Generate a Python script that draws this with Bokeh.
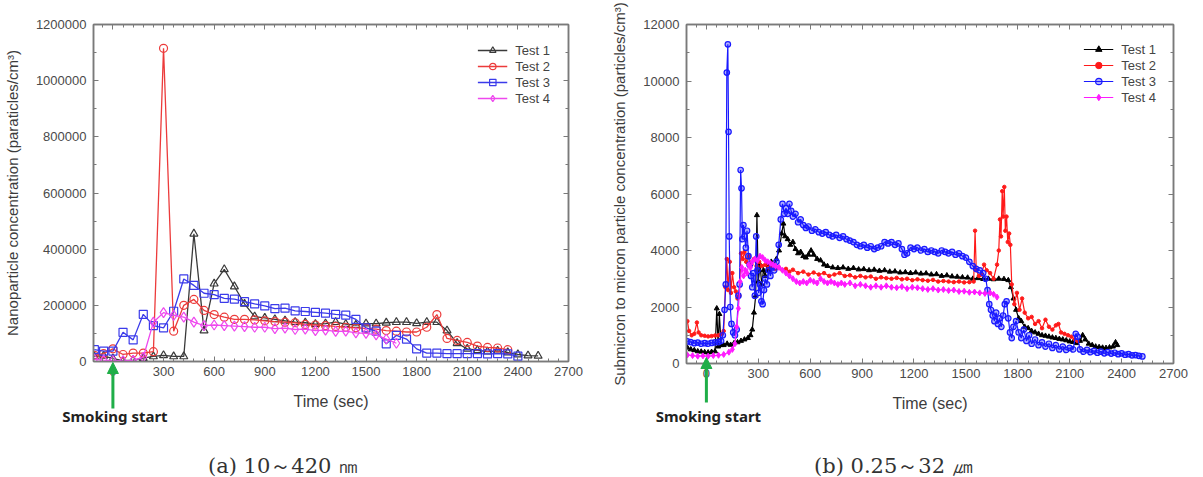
from bokeh.plotting import figure
from bokeh.layouts import row, column
from bokeh.models import (LinearAxis, SingleIntervalTicker, BasicTickFormatter, Range1d,
                          Legend, LegendItem, Arrow, NormalHead, Label)
from bokeh.embed import file_html
from bokeh.resources import INLINE

# ---------------- (a) nanoparticles, 10~420 nm ----------------
nano_t1_time = [-110, -55, 0, 60, 120, 180, 240, 300, 360, 420, 480, 540, 600, 660, 720, 780,
                840, 900, 960, 1020, 1080, 1140, 1200, 1260, 1320, 1380, 1440, 1500, 1560,
                1620, 1680, 1740, 1800, 1860, 1920, 1980, 2040, 2100, 2160, 2220, 2280, 2340,
                2400, 2460, 2520]
nano_t1 = [18000, 20000, 10000, 3000, 5000, 12000, 18000, 22000, 18000, 18000, 455000, 110000,
           277000, 328000, 267000, 205000, 160000, 155000, 150000, 145000, 140000, 138000,
           133000, 135000, 140000, 133000, 130000, 135000, 135000, 138000, 140000, 140000,
           136000, 140000, 140000, 110000, 65000, 45000, 40000, 35000, 38000, 32000, 25000,
           21000, 20000]

nano_t2_time = [-110, -55, 0, 60, 120, 180, 240, 300, 360, 420, 480, 540, 600, 660, 720, 780,
                840, 900, 960, 1020, 1080, 1140, 1200, 1260, 1320, 1380, 1440, 1500, 1560,
                1620, 1680, 1740, 1800, 1860, 1920, 1980, 2040, 2100, 2160, 2220, 2280, 2340]
nano_t2 = [22000, 28000, 45000, 25000, 30000, 30000, 35000, 1115000, 108000, 200000, 221000,
           182000, 167000, 158000, 150000, 150000, 148000, 145000, 142000, 140000, 138000,
           132000, 130000, 128000, 125000, 122000, 120000, 118000, 115000, 110000, 108000,
           105000, 105000, 122000, 167000, 82000, 75000, 68000, 55000, 50000, 48000, 42000]

nano_t3_time = [-110, -55, 0, 60, 120, 180, 240, 300, 360, 420, 480, 540, 600, 660, 720, 780,
                840, 900, 960, 1020, 1080, 1140, 1200, 1260, 1320, 1380, 1440, 1500, 1560,
                1620, 1680, 1740, 1800, 1860, 1920, 1980, 2040, 2100, 2160, 2220, 2280, 2340,
                2400]
nano_t3 = [42000, 37000, 37000, 104000, 77000, 168000, 128000, 120000, 179000, 294000, 271000,
           243000, 238000, 225000, 222000, 213000, 205000, 198000, 188000, 190000, 180000,
           178000, 175000, 172000, 168000, 165000, 150000, 120000, 108000, 63000, 93000,
           80000, 45000, 30000, 30000, 28000, 28000, 28000, 28000, 27000, 28000, 27000, 19000]

nano_t4_time = [-110, -55, 0, 60, 120, 180, 240, 300, 360, 420, 480, 540, 600, 660, 720, 780,
                840, 900, 960, 1020, 1080, 1140, 1200, 1260, 1320, 1380, 1440, 1500, 1560,
                1620, 1680]
nano_t4 = [8000, 5000, 3000, 2000, 4000, 15000, 140000, 174000, 164000, 158000, 140000, 128000,
           130000, 128000, 126000, 124000, 122000, 122000, 117000, 119000, 114000, 115000,
           110000, 112000, 107000, 108000, 102000, 100000, 95000, 80000, 65000]

# ---------------- (b) submicron to micron, 0.25~32 um ----------------
sub_t1_time = [-110, -90, -70, -50, -30, -10, 10, 30, 50, 60, 68, 75, 85, 100, 120, 140, 160,
               180, 200, 220, 240, 255, 265, 275, 285, 292, 300, 310, 320, 330, 340, 350, 360,
               375, 390, 405, 420, 435, 445, 455, 470, 485, 500, 515, 530, 545, 560, 575, 590,
               605, 620, 640, 660, 680, 700, 730, 760, 790, 820, 850, 880, 910, 940, 970, 1000,
               1030, 1060, 1090, 1120, 1150, 1180, 1210, 1240, 1270, 1300, 1330, 1360, 1390,
               1420, 1450, 1480, 1510, 1540, 1570, 1600, 1630, 1660, 1690, 1720, 1745, 1760,
               1775, 1790, 1805, 1820, 1840, 1860, 1880, 1900, 1920, 1940, 1960, 1980, 2000,
               2020, 2040, 2060, 2080, 2100, 2120, 2140, 2160, 2175, 2190, 2210, 2230, 2250,
               2270, 2290, 2310, 2330, 2350, 2365, 2375]
sub_t1 = [560, 500, 470, 430, 420, 400, 390, 410, 430, 1950, 600, 1750, 650, 650, 700, 660, 720,
          750, 800, 850, 900, 1000, 1200, 1800, 2400, 5250, 2900, 3500, 2800, 3300, 3100, 3500,
          3300, 3600, 3500, 3700, 4000, 4600, 4950, 4500, 4400, 4200, 4300, 4050, 3900, 3950,
          3800, 3750, 3850, 4000, 3850, 3700, 3650, 3500, 3450, 3400, 3380, 3400, 3350, 3380,
          3330, 3340, 3300, 3320, 3280, 3300, 3250, 3260, 3220, 3230, 3200, 3220, 3180, 3190,
          3150, 3160, 3100, 3120, 3080, 3070, 3050, 3040, 3000, 3020, 2990, 3000, 2980, 3000,
          2990, 2950, 2700, 2300, 1900, 1600, 1500, 1300, 1250, 1150, 1100, 1050, 1000, 980,
          950, 920, 900, 870, 850, 820, 780, 760, 720, 800, 1000, 850, 700, 650, 600, 580, 560,
          550, 570, 600, 750, 650]

sub_t2_time = [-110, -100, -85, -70, -55, -45, -30, -10, 10, 30, 50, 70, 90, 100, 110, 118, 125,
               135, 142, 150, 160, 170, 180, 190, 200, 210, 220, 230, 245, 260, 275, 290, 305,
               320, 340, 360, 380, 400, 420, 440, 460, 480, 500, 530, 560, 590, 620, 650, 680,
               710, 740, 770, 800, 830, 860, 890, 920, 950, 980, 1010, 1040, 1070, 1100, 1130,
               1160, 1190, 1220, 1250, 1280, 1310, 1340, 1370, 1400, 1430, 1460, 1490, 1520,
               1545, 1553, 1560, 1575, 1590, 1605, 1620, 1640, 1660, 1680, 1690, 1697, 1703,
               1710, 1715, 1722, 1728, 1735, 1742, 1750, 1757, 1765, 1780, 1795, 1810, 1825,
               1840, 1860, 1880, 1900, 1920, 1940, 1960, 1980, 2000, 2020, 2035, 2050, 2070,
               2090, 2110, 2130, 2145]
sub_t2 = [1500, 1150, 1000, 1050, 1450, 1100, 1000, 980, 960, 970, 990, 1000, 1050, 1150, 2700,
          3700, 2600, 3600, 2500, 3200, 2700, 2550, 2300, 2400, 3900, 3700, 3950, 3600, 3800,
          3500, 3700, 3450, 3600, 3450, 3500, 3400, 3450, 3350, 3400, 3300, 3350, 3250, 3320,
          3200, 3250, 3150, 3220, 3150, 3200, 3100, 3150, 3200, 3100, 3120, 3050, 3100, 3050,
          3080, 3000, 3050, 3020, 3000, 3030, 2980, 3000, 2950, 2980, 2950, 2930, 2960, 2900,
          2920, 2900, 2880, 2900, 2870, 2880, 2900, 4700, 3300, 3100, 3150, 3500, 3300, 3200,
          3000, 3500, 4000, 5100, 4500, 6100, 5200, 6250, 4700, 5200, 4300, 4600, 4200, 2800,
          2100, 2500, 1900, 2300, 1800, 1600, 1650, 1400, 1500, 1250, 1550, 1300, 1200, 1350,
          1400, 1100, 1050, 1000, 950, 850, 800]

sub_t3_time = [-110, -90, -70, -50, -30, -10, 10, 30, 50, 70, 85, 95, 105, 112, 118, 124, 128,
               132, 138, 145, 155, 165, 175, 185, 192, 198, 203, 208, 214, 220, 228, 235, 243,
               250, 258, 265, 272, 280, 288, 295, 302, 310, 318, 325, 333, 340, 350, 360, 370,
               380, 392, 405, 418, 430, 440, 450, 460, 470, 480, 490, 500, 515, 530, 545, 560,
               575, 590, 610, 630, 650, 670, 690, 710, 730, 750, 770, 790, 810, 830, 850, 870,
               890, 910, 930, 950, 970, 990, 1010, 1030, 1050, 1070, 1090, 1110, 1130, 1145,
               1160, 1180, 1200, 1220, 1240, 1260, 1280, 1300, 1320, 1340, 1360, 1380, 1400,
               1420, 1440, 1460, 1480, 1500, 1520, 1540, 1560, 1580, 1600, 1615, 1625, 1635,
               1645, 1655, 1665, 1675, 1685, 1695, 1705, 1715, 1725, 1735, 1745, 1755, 1765,
               1775, 1790, 1805, 1820, 1835, 1850, 1865, 1880, 1900, 1920, 1940, 1960, 1980,
               2000, 2020, 2040, 2060, 2080, 2100, 2120, 2135, 2145, 2160, 2180, 2200, 2220,
               2240, 2260, 2280, 2300, 2320, 2340, 2360, 2380, 2400, 2420, 2440, 2460, 2480,
               2500, 2520]
sub_t3 = [780, 760, 720, 740, 700, 720, 700, 730, 750, 760, 800, 1000, 1900, 2800, 10300, 11300,
          8200, 4500, 2000, 1400, 1100, 1000, 1200, 2400, 2800, 6850, 6200, 4400, 4900, 4500,
          4100, 4700, 3800, 3500, 3100, 2700, 3200, 2400, 4500, 3300, 2500, 2800, 2200, 2100,
          2600, 3000, 2800, 3300, 3100, 3400, 3300, 3600, 4200, 5100, 5650, 5300, 5500, 5300,
          5650, 5400, 5200, 5300, 5000, 5100, 4900, 4800, 4850, 4700, 4750, 4650, 4600, 4650,
          4550, 4500, 4550, 4450, 4500, 4400, 4350, 4300, 4200, 4150, 4200, 4100, 4150, 4050,
          4100, 4150, 4300, 4250, 4300, 4200, 4250, 4050, 3850, 3900, 4100, 4050, 4100, 4000,
          4050, 3950, 4000, 3950, 3900, 4000, 3950, 3900, 3950, 3850, 3900, 3800, 3750, 3600,
          3450, 3350, 3300, 3200, 3000, 2600, 2100, 1900, 1700, 1500, 1800, 1400, 1600, 1300,
          1700, 2100, 2200, 1600, 1100, 900, 1300, 1500, 1100, 900, 1200, 800, 1000, 700, 850,
          650, 750, 600, 700, 550, 650, 500, 600, 480, 550, 500, 1050, 950, 500, 420, 480, 400,
          450, 380, 420, 360, 400, 350, 380, 330, 360, 310, 330, 290, 300, 270, 250]

sub_t4_time = [-110, -80, -50, -20, 10, 40, 70, 100, 130, 150, 165, 175, 185, 195, 205, 215,
               225, 235, 245, 255, 265, 280, 295, 310, 325, 340, 355, 370, 385, 400, 420, 440,
               460, 480, 500, 520, 540, 560, 580, 600, 620, 640, 660, 680, 700, 720, 740, 760,
               780, 800, 830, 860, 890, 920, 950, 980, 1010, 1040, 1070, 1100, 1130, 1160, 1190,
               1220, 1250, 1280, 1310, 1340, 1370, 1400, 1430, 1460, 1490, 1520, 1550, 1580,
               1610, 1640, 1660, 1680]
sub_t4 = [300, 280, 260, 270, 260, 280, 290, 320, 400, 500, 700, 1300, 1950, 2900, 3400, 3100,
          3300, 3200, 3500, 3400, 3600, 3700, 3650, 3800, 3750, 3650, 3600, 3550, 3500, 3450,
          3400, 3300, 3200, 3100, 3000, 2900, 2850, 2900, 2850, 2950, 2900, 2850, 3000, 2900,
          2850, 2900, 2850, 2800, 2850, 2800, 2850, 2750, 2800, 2750, 2700, 2750, 2700, 2750,
          2700, 2680, 2720, 2650, 2700, 2680, 2650, 2620, 2650, 2600, 2620, 2580, 2600, 2550,
          2560, 2520, 2530, 2500, 2480, 2500, 2450, 2350]

series_names = ["Test 1", "Test 2", "Test 3", "Test 4"]

FRAME = "#7a7a7a"
TICK_TXT = "#4a4a4a"
LABEL_TXT = "#3c3c3c"
GREEN = "#1fae48"
SANS = "Liberation Sans"
X_START, X_END = -115, 2700
H = 477


def make_panel(width, b_left, b_right, b_bottom, y_max, y_step, y_label, y_label_size):
    p = figure(width=width, height=H, output_backend="svg", toolbar_location=None,
               x_range=Range1d(X_START, X_END), y_range=Range1d(0, y_max),
               min_border_left=b_left, min_border_right=b_right, min_border_top=24,
               min_border_bottom=b_bottom, x_axis_label="Time (sec)", y_axis_label=y_label,
               frame_align=False)
    xt = SingleIntervalTicker(interval=300, num_minor_ticks=5)
    yt = SingleIntervalTicker(interval=y_step, num_minor_ticks=2)
    xa = p.below[0]
    ya = p.left[0]
    xa.ticker = xt
    ya.ticker = yt
    ya.formatter = BasicTickFormatter(use_scientific=False)
    top = LinearAxis(ticker=xt)
    right = LinearAxis(ticker=yt)
    p.add_layout(top, "above")
    p.add_layout(right, "right")
    for ax in (xa, ya, top, right):
        ax.axis_line_color = FRAME
        ax.axis_line_width = 1.5
        ax.major_tick_line_color = FRAME
        ax.minor_tick_line_color = FRAME
        ax.major_tick_in = 5
        ax.major_tick_out = 0
        ax.minor_tick_in = 3
        ax.minor_tick_out = 0
    # the mirrored edges carry tick marks only
    for ax in (top, right):
        ax.major_label_text_color = None
        ax.major_label_text_font_size = "1px"
        ax.major_label_standoff = 0
    for ax in (xa, ya):
        ax.major_label_text_font = SANS
        ax.major_label_text_font_size = "13px"
        ax.major_label_text_color = TICK_TXT
        ax.axis_label_text_font = SANS
        ax.axis_label_text_font_style = "normal"
        ax.axis_label_text_color = LABEL_TXT
    xa.major_label_standoff = 5
    xa.axis_label_text_font_size = "16px"
    xa.axis_label_standoff = 14
    ya.major_label_standoff = 7
    ya.axis_label_text_font_size = y_label_size
    ya.axis_label_standoff = 12
    p.grid.visible = False
    p.outline_line_color = FRAME
    p.outline_line_width = 1.5
    return p


def make_overlay(width, b_left, b_right, arrow_tail, arrow_tip, caption, cap_x):
    # transparent sheet laid over a panel; y counts pixels from the top edge
    frame_w = width - b_left - b_right
    k = frame_w / (X_END - X_START)
    ov = figure(width=width, height=H, output_backend="svg", toolbar_location=None,
                x_range=Range1d(X_START - b_left / k, X_END + b_right / k),
                y_range=Range1d(H, 0), x_axis_location=None, y_axis_location=None,
                min_border=0, outline_line_color=None, frame_align=False,
                border_fill_color=None, background_fill_color=None,
                margin=(-H, 0, 0, 0))
    ov.grid.visible = False
    ov.add_layout(Arrow(end=NormalHead(size=11, fill_color=GREEN, line_color=GREEN),
                        x_start=0, y_start=arrow_tail, x_end=0, y_end=arrow_tip,
                        line_color=GREEN, line_width=3))
    ov.add_layout(Label(x=0, y=415, x_offset=2, text="Smoking start",
                        text_align="center", text_baseline="middle", text_font="Noto Sans",
                        text_font_style="bold", text_font_size="15px",
                        text_color="#222222"))
    ov.add_layout(Label(x=cap_x, y=465, text=caption, text_align="center",
                        text_baseline="middle", text_font="DejaVu Serif",
                        text_font_size="21px", text_color="#333333"))
    return ov


def add_legend(p, items, margin):
    leg = Legend(items=items, location="top_right", border_line_color=None,
                 background_fill_alpha=0, padding=0, margin=margin, spacing=0,
                 glyph_width=30, glyph_height=16, label_height=16, label_standoff=8,
                 label_text_font=SANS, label_text_font_size="13px",
                 label_text_color="#444444")
    p.add_layout(leg)


# ---------------- left panel ----------------
pa = make_panel(600, 93, 32, 116, 1200000, 200000,
                "Nanoparticle concentration (paraticles/cm\u00b3)", "15px")
a_cols = ["#3a3a3a", "#ec3b3b", "#3b3bea", "#ee48ee"]
a_markers = ["triangle", "circle", "square", "diamond"]
a_sizes = [8, 8, 8, 10]
a_data = [(nano_t1_time, nano_t1), (nano_t2_time, nano_t2),
          (nano_t3_time, nano_t3), (nano_t4_time, nano_t4)]
a_items = []
for name, (tx, vy), c, m, s in zip(series_names, a_data, a_cols, a_markers, a_sizes):
    ln = pa.line(tx, vy, line_color=c, line_width=1.3)
    sc = pa.scatter(tx, vy, marker=m, size=s, line_color=c, fill_color=None, line_width=1.2)
    a_items.append(LegendItem(label=name, renderers=[ln, sc]))
add_legend(pa, a_items, 18)
oa = make_overlay(600, 93, 32, 408, 362, "(a)  10\uff5e420 \u339a", 1031)

# ---------------- right panel ----------------
pb = make_panel(603, 86, 30, 114, 12000, 2000,
                "Submicron to micron particle concentration (particles/cm\u00b3)", "15px")
b_cols = ["#000000", "#ff1a1a", "#1a1aff", "#ff1aff"]
b_data = [(sub_t1_time, sub_t1), (sub_t2_time, sub_t2),
          (sub_t3_time, sub_t3), (sub_t4_time, sub_t4)]
b_items = []
for i, (name, (tx, vy), c) in enumerate(zip(series_names, b_data, b_cols)):
    ln = pb.line(tx, vy, line_color=c, line_width=1.2)
    if i == 0:
        sc = pb.scatter(tx, vy, marker="triangle", size=5, line_color=c, fill_color=c)
    elif i == 1:
        sc = pb.scatter(tx, vy, marker="circle", size=3.5, line_color=c, fill_color=c)
    elif i == 2:
        sc = pb.scatter(tx, vy, marker="circle", size=5.5, line_color=c, fill_color=c,
                        fill_alpha=0.35, line_width=1.2)
    else:
        sc = pb.scatter(tx, vy, marker="diamond", size=6, line_color=c, fill_color=c)
    b_items.append(LegendItem(label=name, renderers=[ln, sc]))
add_legend(pb, b_items, 17)
ob = make_overlay(603, 86, 30, 402, 357, "(b)  0.25\uff5e32 \u339b", 1100)

layout = row(column(pa, oa), column(pb, ob))
open("out.html", "w").write(file_html(layout, INLINE))
